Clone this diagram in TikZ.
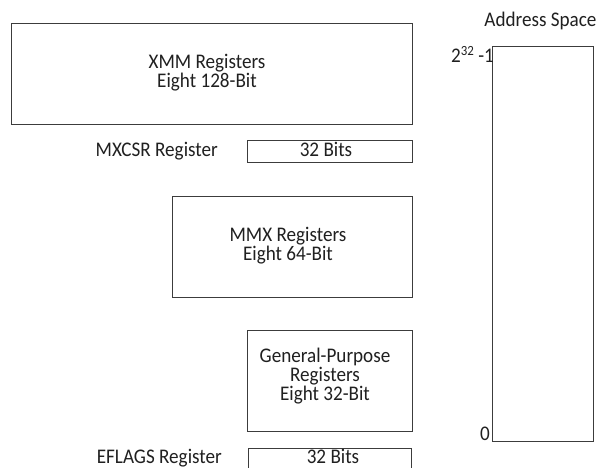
\documentclass[tikz,border=0pt]{standalone}
\usepackage{fontspec}
\setmainfont[FakeStretch=0.92]{Carlito}
\begin{document}
\begin{tikzpicture}[x=1bp,y=-1bp,
  regbox/.style={draw=boxgray, line width=1.4bp, rectangle, inner sep=0pt, anchor=north west},
  txt/.style={text=textgray, inner sep=0pt, font=\fontsize{20.8bp}{19bp}\selectfont, align=center},
  lbl/.style={text=textgray, inner sep=0pt, font=\fontsize{20.8bp}{19bp}\selectfont}]
\definecolor{boxgray}{HTML}{3C3C3C}
\definecolor{textgray}{HTML}{202020}
\clip (0,0) rectangle (597,468);
\fill[white] (0,0) rectangle (597,468);
% boxes
\node[regbox, minimum width=401bp, minimum height=101bp] (xmm) at (11,23) {};
\node[regbox, minimum width=165bp, minimum height=22bp] (mxcsr) at (247,140) {};
\node[regbox, minimum width=240bp, minimum height=101bp] (mmx) at (172,196) {};
\node[regbox, minimum width=165bp, minimum height=101bp] (gp) at (247,330) {};
\node[regbox, minimum width=163bp, minimum height=40bp] (eflags) at (248,448) {};
\node[regbox, minimum width=101bp, minimum height=395bp] (addr) at (492,46) {};
% texts in boxes
\node[txt] (xmmtxt) at (207,73) {XMM Registers\\ Eight 128-Bit};
\node[txt] (mmxtxt) at (288,245.5) {MMX Registers\\ Eight 64-Bit};
\node[txt] (gptxt) at (325,376.5) {General-Purpose\\Registers\\ Eight 32-Bit};
\node[lbl, anchor=base] (mxbits) at (326,157) {32 Bits};
\node[lbl, anchor=base] (efbits) at (333,463) {32 Bits};
% outside labels
\node[lbl, anchor=base east] (mxlbl) at (218,157) {MXCSR Register};
\node[lbl, anchor=base east] (eflbl) at (222,463) {EFLAGS Register};
\node[lbl, anchor=base] (addrlbl) at (540.5,27) {Address Space};
\node[lbl, anchor=base east] (top) at (494,63) {2\raisebox{7bp}{\fontsize{14bp}{14bp}\selectfont 32} -1};
\node[lbl, anchor=base east] (zero) at (490,440) {0};
\end{tikzpicture}
\end{document}
